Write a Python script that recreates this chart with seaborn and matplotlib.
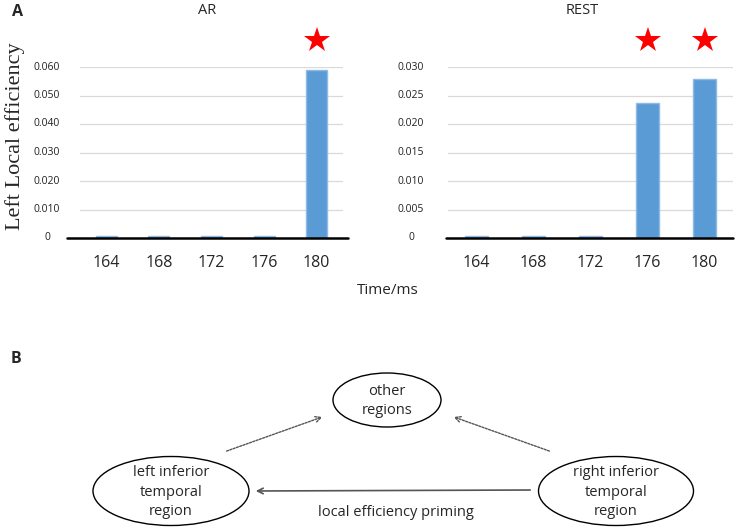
import matplotlib
matplotlib.use("Agg")
import matplotlib.pyplot as plt
from matplotlib.patches import Ellipse
import seaborn as sns
import pandas as pd

# data
times = ["164", "168", "172", "176", "180"]
ar_values = [0.0007, 0.0007, 0.0007, 0.0007, 0.0588]
rest_values = [0.0003, 0.0003, 0.0003, 0.0237, 0.0279]
ar_sig = ["180"]
rest_sig = ["176", "180"]
ar_ticks = [0, 0.010, 0.020, 0.030, 0.040, 0.050, 0.060]
ar_ticklabels = ["0", "0.010", "0.020", "0.030", "0.040", "0.050", "0.060"]
rest_ticks = [0, 0.005, 0.010, 0.015, 0.020, 0.025, 0.030]
rest_ticklabels = ["0", "0.005", "0.010", "0.015", "0.020", "0.025", "0.030"]

# diagram nodes (pixel positions in the 737x530 canvas)
node_labels = ["other\nregions", "left inferior\ntemporal\nregion", "right inferior\ntemporal\nregion"]
node_xy = [(387, 400), (171, 491), (616, 491)]
node_size = [(108, 54), (156, 69), (155, 69)]

sns.set_style("white")
plt.rcParams["font.family"] = ["Open Sans", "DejaVu Sans"]

W, H = 737, 530
fig = plt.figure(figsize=(W / 100, H / 100), dpi=100)

bar_color = "#5B9BD5"
edge_color = "#8DBBE6"


def panel(rect, values, ticks, ticklabels, sig, title, title_x, label_x, base_ext):
    ax = fig.add_axes([rect[0] / W, 1 - rect[3] / H, (rect[2] - rect[0]) / W, (rect[3] - rect[1]) / H])
    df = pd.DataFrame({"Time": times, "val": values})
    sns.barplot(data=df, x="Time", y="val", ax=ax, color=bar_color, saturation=1,
                width=0.4, edgecolor=edge_color, linewidth=1)
    ax.set_ylim(0, ticks[-1])
    ax.set_xlim(-0.5, 4.5)
    ax.set_yticks(ticks)
    ax.set_yticklabels([])
    for t, lab in zip(ticks, ticklabels):
        ax.text(label_x, t, lab, transform=ax.get_yaxis_transform(), ha="center", va="center",
                fontsize=7.5, color="#222222")
    for t in ticks[1:]:
        ax.axhline(t, color="#D9D9D9", lw=0.9, zorder=0)
    ax.axhline(0, xmin=base_ext[0], xmax=base_ext[1], color="black", lw=1.8, clip_on=False, zorder=3)
    ax.set_xlabel("")
    ax.set_ylabel("")
    ax.tick_params(axis="x", length=0, labelsize=11.5, pad=12)
    ax.tick_params(axis="y", length=0)
    for s in ax.spines.values():
        s.set_visible(False)
    for i, t in enumerate(times):
        if t in sig:
            ax.plot(i, ticks[-1] * 1.158, marker="*", color="red", markersize=19,
                    markeredgewidth=0, clip_on=False)
    fig.text(title_x / W, 1 - 10 / H, title, ha="center", va="center", fontsize=10.5)
    return ax


ax1 = panel((80, 67, 343, 238), ar_values, ar_ticks, ar_ticklabels, ar_sig, "AR", 207, -0.125,
            (-0.05, 1.02))
ax2 = panel((448, 67, 733, 238), rest_values, rest_ticks, rest_ticklabels, rest_sig, "REST", 582, -0.13,
            (-0.007, 1.0))

fig.text(15 / W, 1 - 136 / H, "Left Local efficiency", rotation=90, ha="center", va="center",
         fontsize=16, family=["Liberation Serif", "DejaVu Serif"])
fig.text(388 / W, 1 - 290 / H, "Time/ms", ha="center", va="center", fontsize=11)
fig.text(17 / W, 1 - 12 / H, "A", ha="center", va="center", fontsize=11.5, fontweight="bold")
fig.text(16 / W, 1 - 359 / H, "B", ha="center", va="center", fontsize=11.5, fontweight="bold")

# panel B diagram
axd = fig.add_axes([0, 0, 1, 1], facecolor="none")
axd.set_xlim(0, W)
axd.set_ylim(H, 0)
axd.axis("off")
for lab, xy, (w, h) in zip(node_labels, node_xy, node_size):
    axd.add_patch(Ellipse(xy, w, h, fill=False, edgecolor="black", lw=1))
    axd.text(xy[0], xy[1] + 1, lab, ha="center", va="center", fontsize=10.5, linespacing=1.4)

axd.annotate("", xy=(325, 416), xytext=(224, 452),
             arrowprops=dict(arrowstyle="->", color="#555555", lw=1, linestyle=(0, (1.5, 1))))
axd.annotate("", xy=(451, 416), xytext=(552, 452),
             arrowprops=dict(arrowstyle="->", color="#555555", lw=1, linestyle=(0, (1.5, 1))))
axd.annotate("", xy=(253, 491), xytext=(533, 490),
             arrowprops=dict(arrowstyle="->", color="#555555", lw=1.2))
axd.text(396, 512, "local efficiency priming", ha="center", va="center", fontsize=10.5)

fig.savefig("out.png", dpi=100)
